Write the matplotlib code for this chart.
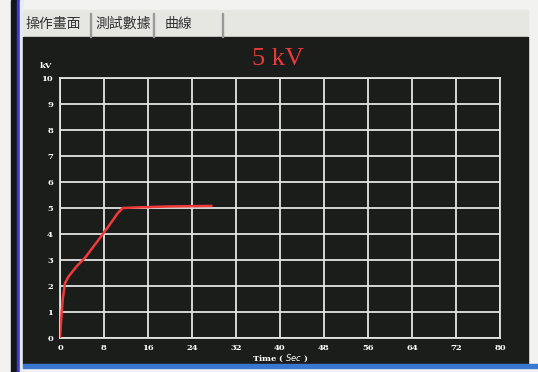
import numpy as np
import matplotlib.pyplot as plt
from matplotlib.patches import Rectangle

# curve
t_sec = [0, 0.2, 0.5, 0.9, 1.5, 3.0, 4.6, 6.2, 7.8, 9.5, 10.5, 11.4, 15, 20, 27.5]
volt_kv = [0, 0.7, 1.5, 2.1, 2.35, 2.75, 3.1, 3.55, 4.0, 4.5, 4.8, 5.0, 5.03, 5.06, 5.08]

x_ticks = [0, 8, 16, 24, 32, 40, 48, 56, 64, 72, 80]
y_ticks = list(range(0, 11))
tabs = ['操作畫面', '測試數據', '曲線']
tab_x = [25, 95, 165]
sep_x = [90, 153, 222]

W, H = 538, 372
fig = plt.figure(figsize=(W / 100, H / 100), dpi=100)
fig.patch.set_facecolor('#f2f2f0')

def px_rect(x0, y0, x1, y1, color):
    # rectangle in pixel coords (origin top-left)
    fig.patches.append(Rectangle((x0 / W, 1 - y1 / H), (x1 - x0) / W, (y1 - y0) / H,
                                 transform=fig.transFigure, color=color, zorder=-10))

px_rect(11, 0, 17, H, '#15161a')      # bezel
px_rect(17, 0, 20, H, '#3a3ad8')      # blue window edge
px_rect(20, 0, 23, H, '#e8eaf4')
px_rect(23, 10, 528, 37, '#e6e6e3')   # tab bar
px_rect(23, 37, 528, 364, '#1b1d1a')  # black panel
px_rect(23, 364, W, 368, '#3a78d0')    # taskbar edge

for x in sep_x:
    px_rect(x, 13, x + 1, 37, '#9a9a9a')
for lbl, x in zip(tabs, tab_x):
    fig.text(x / W, 1 - 24 / H, lbl, fontsize=10, color='#333333', va='center',
             family=['Noto Sans CJK TC', 'DejaVu Sans'])

ax = fig.add_axes([60 / W, 1 - 338 / H, 440 / W, 260 / H])
ax.set_facecolor('#1b1d1a')
ax.plot(t_sec, volt_kv, color='#f03a3a', lw=1.8, zorder=3)
ax.set_xlim(0, 80)
ax.set_ylim(0, 10)
ax.set_xticks(x_ticks)
ax.set_yticks(y_ticks)
ax.grid(True, color='#e4e4e4', lw=1.3)
ax.tick_params(length=0, colors='white', labelsize=6, pad=5)
ax.tick_params(axis='x', pad=4)
for lab in ax.get_xticklabels() + ax.get_yticklabels():
    lab.set_fontweight('bold')
    lab.set_family('DejaVu Serif')
for s in ax.spines.values():
    s.set_color('#e4e4e4')
    s.set_linewidth(1.3)

ax.set_xlabel(r'Time ( $\it{Sec}$ )', color='white', fontsize=6, fontweight='bold',
              family='DejaVu Serif', labelpad=1)
fig.text(40 / W, 1 - 66 / H, 'kV', color='white', fontsize=6, fontweight='bold',
         family='DejaVu Serif', va='center')
fig.text(278 / W, 1 - 59 / H, '5 kV', color='#e83a3a', fontsize=19,
         family='Liberation Serif', ha='center', va='center')

fig.savefig('out.png', dpi=100, facecolor=fig.get_facecolor())
